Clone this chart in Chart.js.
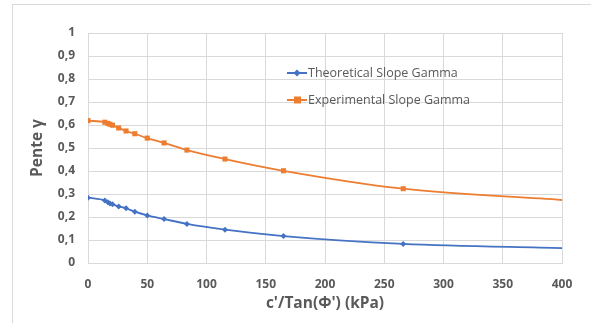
<!DOCTYPE html>
<html>
<head>
<meta charset="utf-8">
<script src="https://cdn.jsdelivr.net/npm/chart.js@4.4.1/dist/chart.umd.min.js"></script>
<style>
  html, body { margin: 0; padding: 0; background: #fff; }
  #wrap { width: 591px; height: 323px; }
</style>
</head>
<body>
<div id="wrap"><canvas id="slopeChart" width="591" height="323"></canvas></div>
<script>
// c'/tan(phi) values (kPa); the last one only closes the curve at the axis end
const cTanPhi = [0, 14.2, 16.8, 18.5, 20.7, 25.9, 32.1, 39.5, 50, 64.2, 83.5, 115.6, 165, 266, 400];
const theoretical = [0.284, 0.272, 0.264, 0.259, 0.255, 0.246, 0.238, 0.223, 0.207, 0.191, 0.170, 0.145, 0.117, 0.083, 0.065];
const experimental = [0.619, 0.612, 0.607, 0.603, 0.599, 0.587, 0.574, 0.562, 0.543, 0.522, 0.491, 0.452, 0.401, 0.323, 0.274];
const seriesNames = ["Theoretical Slope Gamma", "Experimental Slope Gamma"];

const BLUE = "#4472C4";
const ORANGE = "#ED7D31";
const GRID = "#d9d9d9";
const TEXT = "#595959";

function toPoints(ys) {
  return cTanPhi.map((x, i) => ({ x: x, y: ys[i] }));
}
// no marker on the closing point
function radii(r) {
  return cTanPhi.map((x, i) => (i === cTanPhi.length - 1 ? 0 : r));
}

// outer frame of the chart object
const framePlugin = {
  id: "frame",
  beforeDraw(chart) {
    const ctx = chart.ctx;
    ctx.save();
    ctx.strokeStyle = GRID;
    ctx.lineWidth = 1;
    ctx.strokeRect(12.5, 4.5, 700, 400);
    ctx.restore();
  }
};

// legend sitting inside the plot
const insideLegend = {
  id: "insideLegend",
  afterDraw(chart) {
    const ctx = chart.ctx;
    ctx.save();
    ctx.font = "12.5px 'Open Sans', sans-serif";
    ctx.textBaseline = "middle";
    chart.data.datasets.forEach((ds, i) => {
      const y = 73 + i * 27;
      ctx.strokeStyle = ds.borderColor;
      ctx.lineWidth = 2;
      ctx.beginPath();
      ctx.moveTo(287, y);
      ctx.lineTo(307, y);
      ctx.stroke();
      ctx.fillStyle = ds.borderColor;
      if (ds.pointStyle === "rect") {
        ctx.fillRect(294, y - 3.5, 7, 7);
      } else {
        ctx.beginPath();
        ctx.moveTo(297, y - 3.5);
        ctx.lineTo(300.5, y);
        ctx.lineTo(297, y + 3.5);
        ctx.lineTo(293.5, y);
        ctx.closePath();
        ctx.fill();
      }
      ctx.fillStyle = TEXT;
      ctx.fillText(ds.label, 308, y);
    });
    ctx.restore();
  }
};

new Chart(document.getElementById("slopeChart"), {
  type: "line",
  data: {
    datasets: [
      {
        label: seriesNames[0],
        data: toPoints(theoretical),
        borderColor: BLUE,
        backgroundColor: BLUE,
        borderWidth: 1.8,
        pointStyle: "rectRot",
        pointRadius: radii(3),
        pointBorderWidth: 0,
        tension: 0.4,
        cubicInterpolationMode: "monotone"
      },
      {
        label: seriesNames[1],
        data: toPoints(experimental),
        borderColor: ORANGE,
        backgroundColor: ORANGE,
        borderWidth: 1.8,
        pointStyle: "rect",
        pointRadius: radii(3.6),
        pointBorderWidth: 0,
        tension: 0.4,
        cubicInterpolationMode: "monotone"
      }
    ]
  },
  options: {
    responsive: false,
    animation: false,
    layout: { padding: { left: 0, top: 33, right: 29, bottom: 0 } },
    plugins: {
      legend: { display: false },
      tooltip: { enabled: false }
    },
    scales: {
      x: {
        type: "linear",
        min: 0,
        max: 400,
        afterFit(scale) { scale.height = 60; },
        grid: { color: GRID, drawTicks: false },
        border: { color: GRID },
        ticks: {
          stepSize: 50,
          padding: 14,
          color: TEXT,
          maxRotation: 0,
          font: { family: "'Open Sans', sans-serif", size: 12, weight: "bold" }
        },
        title: {
          display: true,
          text: "c'/Tan(\u03A6') (kPa)",
          color: TEXT,
          padding: { top: 0, bottom: 10 },
          font: { family: "'Open Sans', sans-serif", size: 15.5, weight: "bold" }
        }
      },
      y: {
        min: 0,
        max: 1,
        afterFit(scale) { scale.width = 88; },
        grid: { color: GRID, drawTicks: false },
        border: { color: GRID },
        ticks: {
          stepSize: 0.1,
          padding: 13,
          color: TEXT,
          font: { family: "'Open Sans', sans-serif", size: 12, weight: "bold" },
          callback: (v) => {
            const r = Math.round(v * 10) / 10;
            return (r === 0 || r === 1) ? String(r) : r.toFixed(1).replace(".", ",");
          }
        },
        title: {
          display: true,
          text: "Pente \u03B3",
          color: TEXT,
          padding: { top: 28, bottom: 0 },
          font: { family: "'Open Sans', sans-serif", size: 15.5, weight: "bold" }
        }
      }
    }
  },
  plugins: [framePlugin, insideLegend]
});
</script>
</body>
</html>
